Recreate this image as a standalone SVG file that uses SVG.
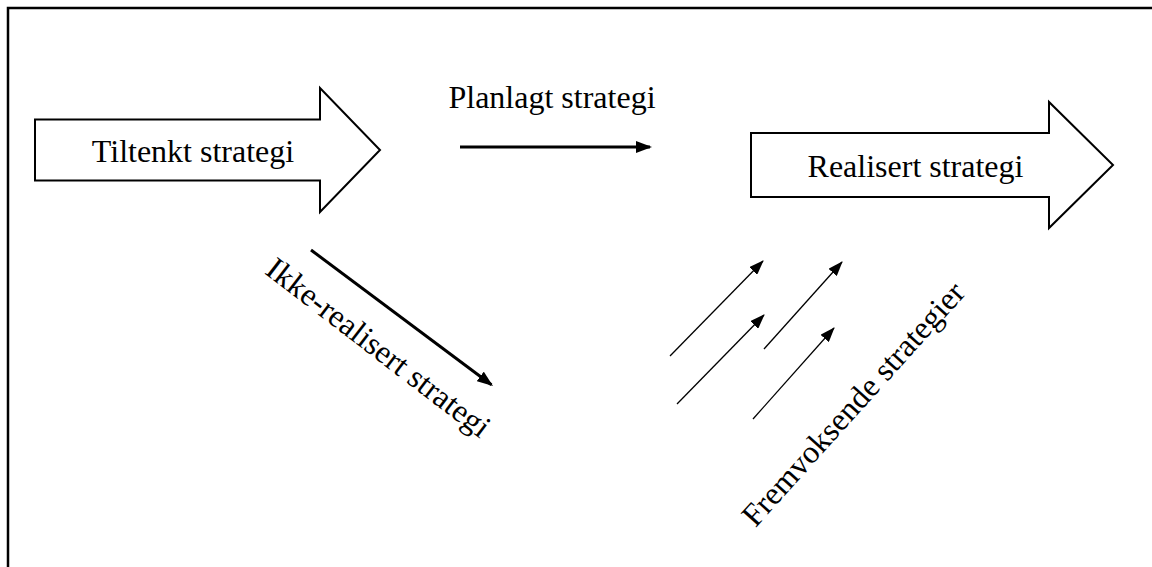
<svg xmlns="http://www.w3.org/2000/svg" width="1152" height="567" viewBox="0 0 1152 567">
<style>
.block{fill:#fff;stroke:#000;stroke-width:2;stroke-linejoin:miter}
.lbl{font-family:"Liberation Serif","Times New Roman",serif;font-size:32px;fill:#000}
.thick{stroke:#000;stroke-width:3;fill:none}
.thin{stroke:#000;stroke-width:1.3;fill:none}
</style>
<defs>
<marker id="headThick" markerUnits="userSpaceOnUse" markerWidth="16" markerHeight="12" refX="14" refY="6" orient="auto">
<path d="M0,0 L16,6 L0,12 z" fill="#000"/>
</marker>
<marker id="headThin" markerUnits="userSpaceOnUse" markerWidth="15" markerHeight="11" refX="14" refY="5.5" orient="auto">
<path d="M0,0 L15,5.5 L0,11 z" fill="#000"/>
</marker>
</defs>
<rect width="1152" height="567" fill="#fff"/>
<path d="M8,567 V8 H1152" fill="none" stroke="#000" stroke-width="2.5"/>

<g id="tiltenkt">
<path class="block" d="M35,119.5 H320 V88 L380,150 L320,212 V180.5 H35 Z"/>
<text class="lbl" x="193" y="162" text-anchor="middle">Tiltenkt strategi</text>
</g>

<g id="realisert">
<path class="block" d="M751,133 H1049 V102 L1113,165 L1049,228 V197 H751 Z"/>
<text class="lbl" x="915.5" y="177" text-anchor="middle">Realisert strategi</text>
</g>

<g id="planlagt">
<text class="lbl" x="552" y="108" text-anchor="middle">Planlagt strategi</text>
</g>

<g id="ikke-realisert">
<text class="lbl" x="0" y="0" text-anchor="middle" transform="translate(372,356) rotate(37.5)">Ikke-realisert strategi</text>
</g>

<g id="fremvoksende">
<text class="lbl" x="0" y="0" text-anchor="middle" transform="translate(861,411) rotate(-48)">Fremvoksende strategier</text>
</g>

<g id="connectors">
<line class="thick" x1="460" y1="147" x2="650" y2="147" marker-end="url(#headThick)"/>
<line class="thick" x1="311" y1="250" x2="491.4" y2="384.8" marker-end="url(#headThick)"/>
<line class="thin" x1="670" y1="356" x2="763" y2="261" marker-end="url(#headThin)"/>
<line class="thin" x1="677" y1="404" x2="764" y2="315" marker-end="url(#headThin)"/>
<line class="thin" x1="764" y1="349" x2="842" y2="262" marker-end="url(#headThin)"/>
<line class="thin" x1="753" y1="419" x2="834" y2="328" marker-end="url(#headThin)"/>
</g>
</svg>
